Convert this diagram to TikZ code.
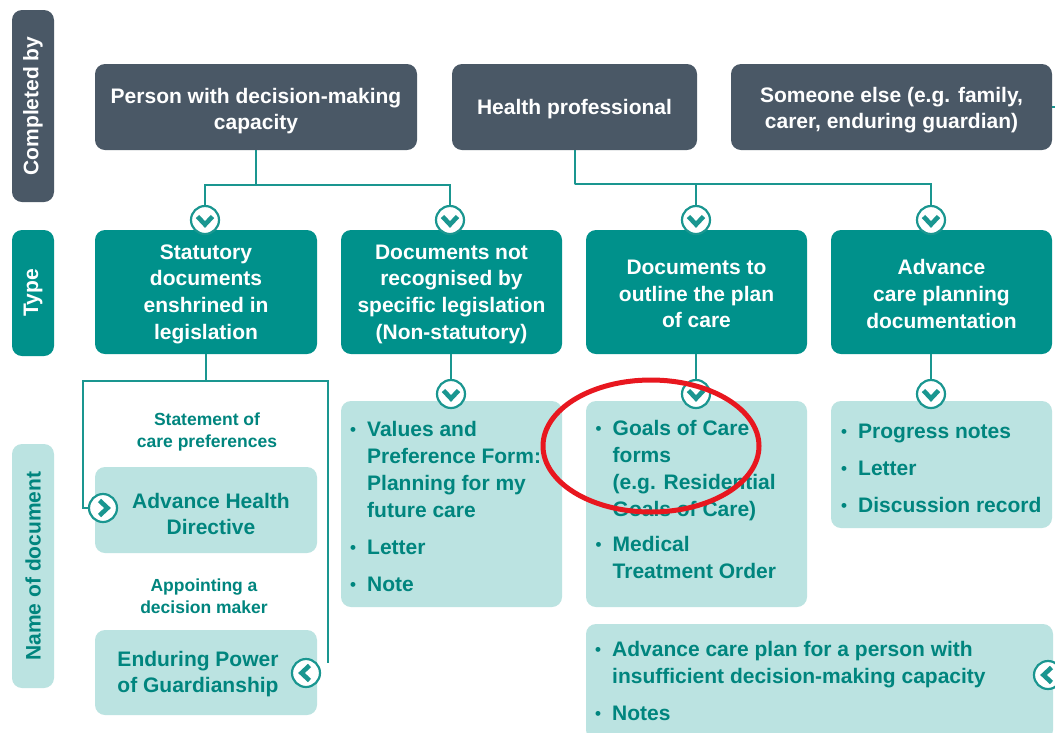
\documentclass[tikz,border=0pt]{standalone}
\usepackage{fontspec}
\setmainfont{Liberation Sans}
\definecolor{cslate}{HTML}{4A5866}
\definecolor{cteal}{HTML}{00918B}
\definecolor{clight}{HTML}{BBE3E1}
\definecolor{ctext}{HTML}{00857E}
\definecolor{cline}{HTML}{1A9690}
\definecolor{cred}{HTML}{E8171F}
\newcommand{\bul}{\raisebox{1pt}{\fontsize{17}{17}\selectfont\textbullet}}
\tikzset{
  basebox/.style={rectangle, rounded corners=10pt, inner sep=0pt, align=center,
    font=\bfseries\fontsize{21}{26.7}\selectfont},
  dbox/.style={basebox, fill=cslate, text=white},
  tbox/.style={basebox, fill=cteal, text=white},
  lbox/.style={basebox, fill=clight, text=ctext},
  wtxt/.style={inner sep=0pt, align=center, text=white, font=\bfseries\fontsize{21}{26.7}\selectfont},
  ctxt/.style={inner sep=0pt, align=center, text=ctext, font=\bfseries\fontsize{21}{26.7}\selectfont},
  stxt/.style={inner sep=0pt, align=center, text=ctext, font=\bfseries\fontsize{17.5}{21.5}\selectfont},
  ltxt/.style={inner sep=0pt, anchor=base west, text=ctext, font=\bfseries\fontsize{21}{27}\selectfont},
  conn/.style={draw=cline, line width=2pt},
  chev/.style={circle, draw=cline, fill=white, line width=2.2pt, minimum size=28pt, inner sep=0pt},
  chevdown/.style={chev, path picture={\draw[cline, line width=4.6pt]
    ([shift={(-7.5pt,3.5pt)}]path picture bounding box.center) --
    ([shift={(0pt,-4.5pt)}]path picture bounding box.center) --
    ([shift={(7.5pt,3.5pt)}]path picture bounding box.center);}},
  chevright/.style={chev, path picture={\draw[cline, line width=4.6pt]
    ([shift={(-3.5pt,7.5pt)}]path picture bounding box.center) --
    ([shift={(4.5pt,0pt)}]path picture bounding box.center) --
    ([shift={(-3.5pt,-7.5pt)}]path picture bounding box.center);}},
  chevleft/.style={chev, path picture={\draw[cline, line width=4.6pt]
    ([shift={(3.5pt,7.5pt)}]path picture bounding box.center) --
    ([shift={(-4.5pt,0pt)}]path picture bounding box.center) --
    ([shift={(3.5pt,-7.5pt)}]path picture bounding box.center);}},
}
\begin{document}
\begin{tikzpicture}[x=1pt,y=-1pt]
\useasboundingbox (0,0) rectangle (1055,732);
\clip (0,0) rectangle (1055,732);
\fill[white] (0,0) rectangle (1055,732);

% row labels
\node[dbox, rotate=90, minimum width=192pt, minimum height=42pt] (lc) at (33,106) {Completed by};
\node[tbox, rotate=90, minimum width=126pt, minimum height=42pt] (lt) at (33,293) {Type};
\node[lbox, rotate=90, minimum width=244pt, minimum height=42pt] (ln) at (33,566) {Name of document};

% completed by
\node[dbox, minimum width=322pt, minimum height=86pt] (p) at (256,107) {};
\node[wtxt] (pt) at ([yshift=-4pt]p.center) {Person with decision-making\\capacity};
\node[dbox, minimum width=245pt, minimum height=86pt] (h) at (574.5,107) {};
\node[wtxt] (ht) at ([yshift=-2pt]h.center) {Health professional};
\node[dbox, minimum width=321pt, minimum height=86pt] (s) at (891.5,107) {};
\node[wtxt] (stx) at ([yshift=-3pt]s.center) {Someone else (e.g. family,\\carer, enduring guardian)};

% types
\node[tbox, minimum width=222pt, minimum height=124pt] (t1) at (206,292) {};
\node[wtxt] (t1t) at ([yshift=-2pt]t1.center) {Statutory\\documents\\enshrined in\\legislation};
\node[tbox, minimum width=221pt, minimum height=124pt] (t2) at (451.5,292) {};
\node[wtxt] (t2t) at ([yshift=-2pt]t2.center) {Documents not\\recognised by\\specific legislation\\(Non-statutory)};
\node[tbox, minimum width=221pt, minimum height=124pt] (t3) at (696.5,292) {};
\node[wtxt] (t3t) at ([yshift=-2pt]t3.center) {Documents to\\outline the plan\\of care};
\node[tbox, minimum width=221pt, minimum height=124pt] (t4) at (941.5,292) {};
\node[wtxt] (t4t) at ([yshift=-2pt]t4.center) {Advance\\care planning\\documentation};

% documents
\node[lbox, minimum width=222pt, minimum height=86pt] (ahd) at (206,510) {};
\node[ctxt] (ahdt) at (211,514) {Advance Health\\Directive};
\node[stxt] (st) at (207,432) {Statement of\\care preferences};
\node[stxt] (ap) at (204,596) {Appointing a\\decision maker};
\node[lbox, minimum width=222pt, minimum height=85pt] (epg) at (206,672.5) {};
\node[ctxt] (epgt) at (198,674) {Enduring Power\\of Guardianship};

\node[lbox, minimum width=221pt, minimum height=206pt] (l2) at (451.5,504) {};
\node[ltxt] (l2t) at (350,436) {\begin{tabular}[t]{@{}p{17pt}@{}l@{}}
\bul & Values and\\ & Preference Form:\\ & Planning for my\\ & future care\\[10pt]
\bul & Letter\\[10pt] \bul & Note\end{tabular}};

\node[lbox, minimum width=221pt, minimum height=206pt] (l3) at (696.5,504) {};
\node[ltxt] (l3t) at (595.5,435) {\begin{tabular}[t]{@{}p{17pt}@{}l@{}}
\bul & Goals of Care\\ & forms\\ & (e.g. Residential\\ & Goals of Care)\\[8pt]
\bul & Medical\\ & Treatment Order\end{tabular}};

\node[lbox, minimum width=221pt, minimum height=127pt] (l4) at (941.5,464.5) {};
\node[ltxt] (l4t) at (841,438) {\begin{tabular}[t]{@{}p{17pt}@{}l@{}}
\bul & Progress notes\\[10pt] \bul & Letter\\[10pt] \bul & Discussion record\end{tabular}};

\node[lbox, minimum width=467pt, minimum height=116pt] (lb) at (819.5,682) {};
\node[ltxt] (lbt) at (595,656) {\begin{tabular}[t]{@{}p{17pt}@{}l@{}}
\bul & Advance care plan for a person with\\ & insufficient decision-making capacity\\[10pt]
\bul & Notes\end{tabular}};

% chevron circles
\node[chevdown] (c1) at (205,220) {};
\node[chevdown] (c2) at (450,220) {};
\node[chevdown] (c3) at (696,220) {};
\node[chevdown] (c4) at (931,220) {};
\node[chevdown] (c5) at (451,394) {};
\node[chevdown] (c6) at (696,394) {};
\node[chevdown] (c7) at (931,394) {};
\node[chevright] (cahd) at (103,508) {};
\node[chevleft] (cepg) at (306,673) {};
\node[chevleft] (cbr) at (1048,675) {};

% connectors
\coordinate (jp) at (256,185);
\coordinate (jh) at (574.5,184);
\coordinate (jl) at (83,381);
\coordinate (jr) at (328,381);
\coordinate (er) at (328,663);
\draw[conn] (p.south) -- (jp);
\draw[conn] (c1.north) |- (jp) -| (c2.north);
\draw[conn] (h.south) -- (jh);
\draw[conn] (c3.north) |- (jh) -| (c4.north);
\draw[conn] (t2.south -| c5) -- (c5.north);
\draw[conn] (t3.south -| c6) -- (c6.north);
\draw[conn] (t4.south -| c7) -- (c7.north);
\draw[conn] (t1.south) -- (t1.south |- jl);
\draw[conn] (cahd.west) -| (jl) -- (jr) -- (er);
\draw[conn] (s.east) -- ++(25,0) |- (cbr.east);

% highlight
\draw[cred, line width=5pt] (651,446) ellipse [x radius=108pt, y radius=66pt];
\end{tikzpicture}
\end{document}
